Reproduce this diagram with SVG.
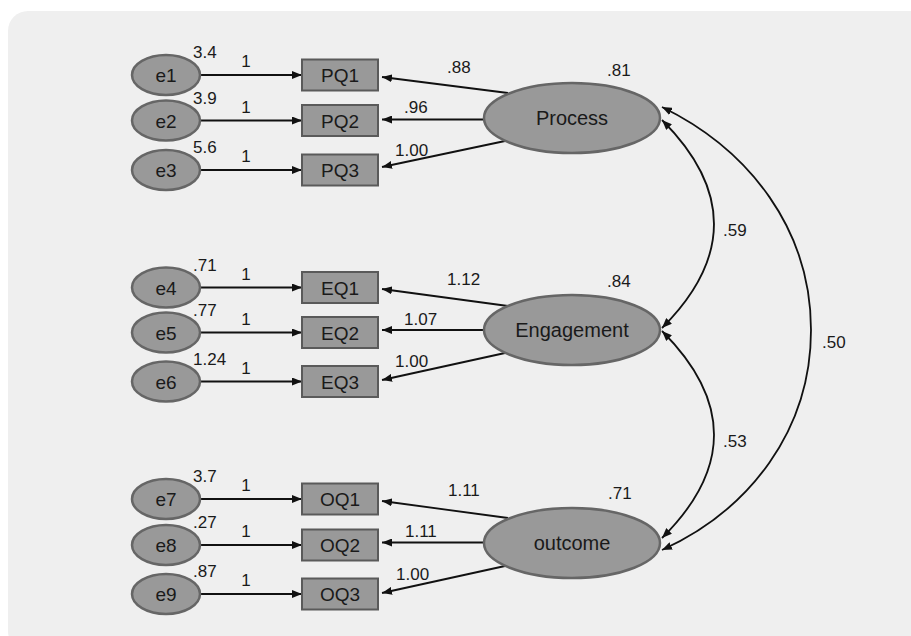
<svg xmlns="http://www.w3.org/2000/svg" width="911" height="636" viewBox="0 0 911 636">
<style>
.bg{fill:#efefef}
.err ellipse,.lat ellipse{fill:#999;stroke:#666;stroke-width:2.5}
.obs rect{fill:#999;stroke:#5a5a5a;stroke-width:2}
text{font-family:"Liberation Sans",Arial,sans-serif;fill:#1a1a1a}
.nl{font-size:19px;text-anchor:middle}
.ll{font-size:20px;text-anchor:middle}
.num{font-size:17px}
.mid{text-anchor:middle}
#connectors line,#connectors path{stroke:#111;stroke-width:1.8;fill:none}
.one{marker-end:url(#ah)}
.two{marker-start:url(#ah);marker-end:url(#ah)}
</style>
<defs>
<marker id="ah" viewBox="0 0 10 8" markerWidth="10" markerHeight="8" refX="10" refY="4" orient="auto-start-reverse" markerUnits="userSpaceOnUse">
<path d="M0,0 L10,4 L0,8 z" fill="#111"/>
</marker>
</defs>
<rect class="bg" x="8" y="11" width="930" height="640" rx="20"/>

<g id="connectors">
<line class="one" x1="200" y1="75" x2="302" y2="75"/>
<line class="one" x1="200" y1="120.5" x2="302" y2="120.5"/>
<line class="one" x1="200" y1="170" x2="302" y2="170"/>
<line class="one" x1="200" y1="287.5" x2="302" y2="287.5"/>
<line class="one" x1="200" y1="332.5" x2="302" y2="332.5"/>
<line class="one" x1="200" y1="381.5" x2="302" y2="381.5"/>
<line class="one" x1="200" y1="499" x2="302" y2="499"/>
<line class="one" x1="200" y1="545" x2="302" y2="545"/>
<line class="one" x1="200" y1="594" x2="302" y2="594"/>

<line class="one" x1="508" y1="93" x2="382" y2="77"/>
<line class="one" x1="484" y1="119.5" x2="382" y2="119.5"/>
<line class="one" x1="505" y1="141" x2="382" y2="167"/>
<line class="one" x1="508" y1="306" x2="382" y2="289"/>
<line class="one" x1="484" y1="330" x2="382" y2="330"/>
<line class="one" x1="505" y1="353" x2="382" y2="380"/>
<line class="one" x1="508" y1="518" x2="382" y2="501"/>
<line class="one" x1="484" y1="542.5" x2="382" y2="542.5"/>
<line class="one" x1="505" y1="566" x2="382" y2="593"/>

<path class="two" d="M662,120 Q766,224 662,328"/>
<path class="two" d="M662,331 Q766,435 662,538"/>
<path class="two" d="M662,107 C750,150 811,230 811,330 C811,430 750,510 662,550"/>
</g>

<g id="e1" class="err"><ellipse cx="166" cy="75" rx="34" ry="20"/><text class="nl" x="166" y="82">e1</text></g>
<g id="e2" class="err"><ellipse cx="166" cy="120.5" rx="34" ry="20"/><text class="nl" x="166" y="127.5">e2</text></g>
<g id="e3" class="err"><ellipse cx="166" cy="170" rx="34" ry="20"/><text class="nl" x="166" y="177">e3</text></g>
<g id="e4" class="err"><ellipse cx="166" cy="287.5" rx="34" ry="20"/><text class="nl" x="166" y="294.5">e4</text></g>
<g id="e5" class="err"><ellipse cx="166" cy="332.5" rx="34" ry="20"/><text class="nl" x="166" y="339.5">e5</text></g>
<g id="e6" class="err"><ellipse cx="166" cy="381.5" rx="34" ry="20"/><text class="nl" x="166" y="388.5">e6</text></g>
<g id="e7" class="err"><ellipse cx="166" cy="499" rx="34" ry="20"/><text class="nl" x="166" y="506">e7</text></g>
<g id="e8" class="err"><ellipse cx="166" cy="545" rx="34" ry="20"/><text class="nl" x="166" y="552">e8</text></g>
<g id="e9" class="err"><ellipse cx="166" cy="594" rx="34" ry="20"/><text class="nl" x="166" y="601">e9</text></g>

<g id="PQ1" class="obs"><rect x="302" y="59.5" width="76" height="31"/><text class="nl" x="340" y="82">PQ1</text></g>
<g id="PQ2" class="obs"><rect x="302" y="105" width="76" height="31"/><text class="nl" x="340" y="127.5">PQ2</text></g>
<g id="PQ3" class="obs"><rect x="302" y="154.5" width="76" height="31"/><text class="nl" x="340" y="177">PQ3</text></g>
<g id="EQ1" class="obs"><rect x="302" y="272" width="76" height="31"/><text class="nl" x="340" y="294.5">EQ1</text></g>
<g id="EQ2" class="obs"><rect x="302" y="317" width="76" height="31"/><text class="nl" x="340" y="339.5">EQ2</text></g>
<g id="EQ3" class="obs"><rect x="302" y="366" width="76" height="31"/><text class="nl" x="340" y="388.5">EQ3</text></g>
<g id="OQ1" class="obs"><rect x="302" y="483.5" width="76" height="31"/><text class="nl" x="340" y="506">OQ1</text></g>
<g id="OQ2" class="obs"><rect x="302" y="529.5" width="76" height="31"/><text class="nl" x="340" y="552">OQ2</text></g>
<g id="OQ3" class="obs"><rect x="302" y="578.5" width="76" height="31"/><text class="nl" x="340" y="601">OQ3</text></g>

<g id="Process" class="lat"><ellipse cx="572" cy="118" rx="88" ry="35"/><text class="ll" x="572" y="125">Process</text></g>
<g id="Engagement" class="lat"><ellipse cx="572" cy="330" rx="88" ry="35"/><text class="ll" x="572" y="337">Engagement</text></g>
<g id="outcome" class="lat"><ellipse cx="572" cy="543" rx="88" ry="35"/><text class="ll" x="572" y="550">outcome</text></g>

<g id="labels" class="num">
<text x="193" y="58">3.4</text>
<text x="193" y="104">3.9</text>
<text x="193" y="153">5.6</text>
<text x="193" y="271">.71</text>
<text x="193" y="316">.77</text>
<text x="193" y="365">1.24</text>
<text x="193" y="482">3.7</text>
<text x="193" y="528">.27</text>
<text x="193" y="577">.87</text>
<text class="mid" x="246" y="67">1</text>
<text class="mid" x="246" y="112.5">1</text>
<text class="mid" x="246" y="162">1</text>
<text class="mid" x="246" y="279.5">1</text>
<text class="mid" x="246" y="324.5">1</text>
<text class="mid" x="246" y="373.5">1</text>
<text class="mid" x="246" y="491">1</text>
<text class="mid" x="246" y="537">1</text>
<text class="mid" x="246" y="586">1</text>
<text x="447" y="73">.88</text>
<text x="404" y="113">.96</text>
<text x="395" y="156">1.00</text>
<text x="607" y="76">.81</text>
<text x="447" y="285">1.12</text>
<text x="404" y="325">1.07</text>
<text x="395" y="367">1.00</text>
<text x="607" y="287">.84</text>
<text x="448" y="496">1.11</text>
<text x="405" y="537">1.11</text>
<text x="396" y="580">1.00</text>
<text x="608" y="499">.71</text>
<text x="723" y="236">.59</text>
<text x="723" y="447">.53</text>
<text x="822" y="348">.50</text>
</g>
</svg>
